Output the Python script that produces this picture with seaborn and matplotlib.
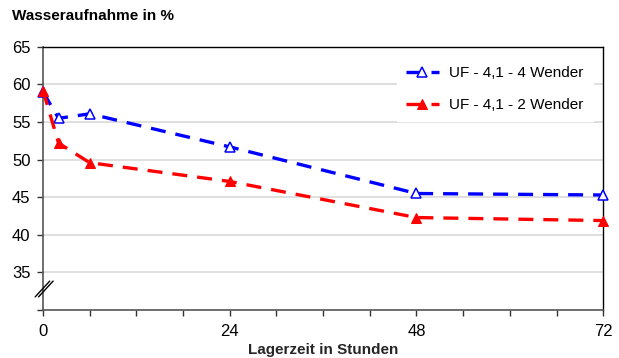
import pandas as pd
import matplotlib.pyplot as plt
import seaborn as sns

hours = [0, 2, 6, 24, 48, 72]
wender4 = [59.0, 55.5, 56.1, 51.7, 45.5, 45.3]
wender2 = [59.2, 52.2, 49.6, 47.1, 42.3, 41.9]
labels = ["UF - 4,1 - 4 Wender", "UF - 4,1 - 2 Wender"]

sns.set_style("white")
plt.rcParams["font.family"] = ["Liberation Sans", "DejaVu Sans"]
plt.rcParams["text.color"] = "black"
plt.rcParams["xtick.color"] = "black"
plt.rcParams["ytick.color"] = "black"

fig = plt.figure(figsize=(6.19, 3.58), dpi=100)
ax = fig.add_axes([0.0695, 0.134, 0.905, 0.735])

df = pd.DataFrame({"h": hours, "w4": wender4, "w2": wender2})

sns.lineplot(data=df, x="h", y="w4", ax=ax, color="#0000ff", lw=2.4,
             linestyle=(0, (4.5, 3)), marker="^", markersize=7.5,
             markerfacecolor="white", markeredgecolor="#0000ff",
             markeredgewidth=1.1, label=labels[0], zorder=3, clip_on=False)
sns.lineplot(data=df, x="h", y="w2", ax=ax, color="#ff0000", lw=2.4,
             linestyle=(0, (4.5, 3)), marker="^", markersize=7.5,
             markerfacecolor="#ff0000", markeredgecolor="#ff0000",
             label=labels[1], zorder=4, clip_on=False)

ax.set_xlim(0, 72)
ax.set_ylim(30, 65)
ax.set_xticks([0, 24, 48, 72])
ax.set_xticks(range(0, 73, 6), minor=True)
ax.set_yticks([30, 35, 40, 45, 50, 55, 60, 65])
ax.set_yticklabels(["", "35", "40", "45", "50", "55", "60", "65"])
ax.tick_params(axis="both", which="both", direction="out", length=4,
               width=1, color="#333333", labelsize=12,
               bottom=True, left=True)
ax.tick_params(axis="x", which="major", pad=6)
ax.tick_params(axis="y", which="major", pad=5)

for y in [35, 40, 45, 50, 55, 60]:
    ax.axhline(y, color="#d9d9d9", lw=1.2, zorder=0)

for side in ["top", "right"]:
    ax.spines[side].set_color("black")
    ax.spines[side].set_linewidth(1)
for side in ["left", "bottom"]:
    ax.spines[side].set_color("#555555")
    ax.spines[side].set_linewidth(1.2)

# axis break marks
for dx in [0.0, 0.006]:
    ax.plot([-0.014 + dx, 0.012 + dx], [0.05, 0.11], transform=ax.transAxes,
            color="black", lw=1, clip_on=False, zorder=5)

ax.set_xlabel("Lagerzeit in Stunden", fontsize=11, fontweight="bold", labelpad=3)
ax.set_ylabel("")
fig.text(0.02, 0.945, "Wasseraufnahme in %", fontsize=11, fontweight="bold")

leg = ax.legend(loc="upper right", bbox_to_anchor=(0.995, 0.99), frameon=True,
                fancybox=False, edgecolor="white", framealpha=1,
                fontsize=11, handlelength=2.1, labelspacing=1.15,
                borderpad=0.6, handletextpad=0.7)

fig.savefig("out.png", dpi=100)
